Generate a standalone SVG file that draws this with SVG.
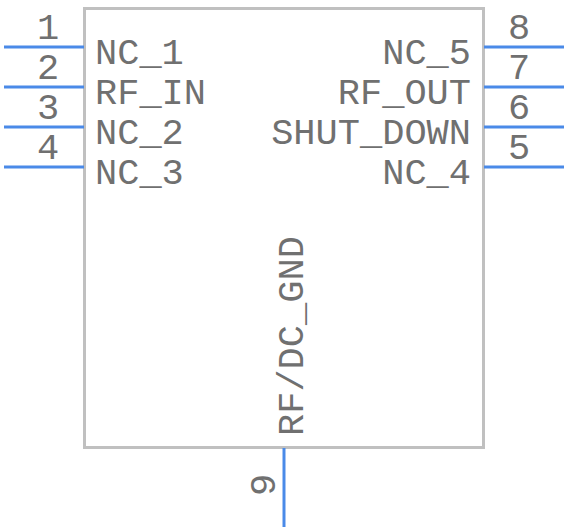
<svg xmlns="http://www.w3.org/2000/svg" width="568" height="532" viewBox="0 0 568 532">
<style>
.body{fill:#ffffff;stroke:#c0c0c0;stroke-width:3}
.pin{stroke:#4a8ae8;stroke-width:3;fill:none}
.t{font-family:"Liberation Mono","DejaVu Sans Mono",monospace;font-size:37px;fill:#707070}
.n{text-anchor:middle}
.e{text-anchor:end}
</style>
<rect x="0" y="0" width="568" height="532" fill="#ffffff"/>
<g id="body">
<rect class="body" x="84.5" y="8.5" width="399" height="439"/>
<text class="t" x="95" y="64">NC_1</text>
<text class="t" x="95" y="104">RF_IN</text>
<text class="t" x="95" y="144">NC_2</text>
<text class="t" x="95" y="184">NC_3</text>
<text class="t e" x="471" y="64">NC_5</text>
<text class="t e" x="471" y="104">RF_OUT</text>
<text class="t e" x="471" y="144">SHUT_DOWN</text>
<text class="t e" x="471" y="184">NC_4</text>
<text class="t" transform="translate(303,436) rotate(-90)">RF/DC_GND</text>
</g>
<g id="connectors">
<line class="pin" x1="4" y1="47" x2="84" y2="47"/>
<line class="pin" x1="4" y1="87" x2="84" y2="87"/>
<line class="pin" x1="4" y1="127" x2="84" y2="127"/>
<line class="pin" x1="4" y1="167" x2="84" y2="167"/>
<line class="pin" x1="484" y1="47" x2="564" y2="47"/>
<line class="pin" x1="484" y1="87" x2="564" y2="87"/>
<line class="pin" x1="484" y1="127" x2="564" y2="127"/>
<line class="pin" x1="484" y1="167" x2="564" y2="167"/>
<line class="pin" x1="284" y1="448" x2="284" y2="527"/>
</g>
<g id="pin-numbers">
<text class="t n" x="48" y="39">1</text>
<text class="t n" x="48" y="79">2</text>
<text class="t n" x="48" y="119">3</text>
<text class="t n" x="48" y="159">4</text>
<text class="t n" x="519" y="39">8</text>
<text class="t n" x="519" y="79">7</text>
<text class="t n" x="519" y="119">6</text>
<text class="t n" x="519" y="159">5</text>
<text class="t n" transform="translate(275,485) rotate(-90)">9</text>
</g>
</svg>
